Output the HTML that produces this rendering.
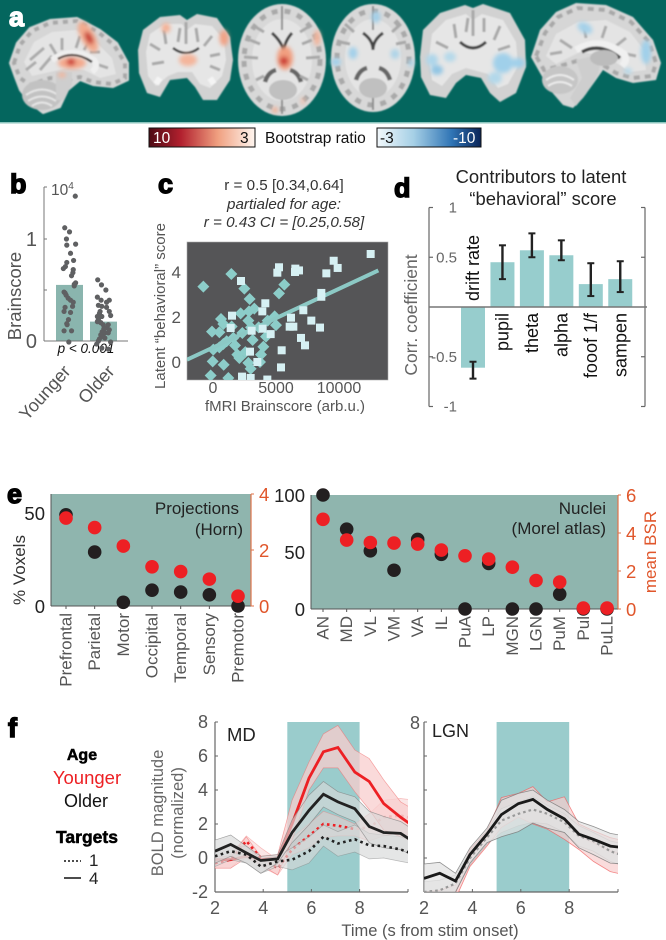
<!DOCTYPE html>
<html lang="en">
<head>
<meta charset="utf-8">
<title>Brain and behaviour multi-panel figure</title>
<style>
html,body{margin:0;padding:0;background:#fff;width:666px;height:940px;overflow:hidden}
svg{display:block}
text{font-family:"Liberation Sans",sans-serif}
.letter{font-weight:bold;font-size:27px;stroke:currentColor;stroke-width:1.4px}
.heavy{font-weight:bold;stroke:#000;stroke-width:.5px}
</style>
</head>
<body>
<svg id="fig" xmlns="http://www.w3.org/2000/svg" width="666" height="940" viewBox="0 0 666 940">
<defs>
<filter id="soft" x="-10%" y="-10%" width="120%" height="120%"><feGaussianBlur stdDeviation="0.9"/></filter>
<filter id="heat" x="-60%" y="-60%" width="220%" height="220%"><feGaussianBlur stdDeviation="2.2"/></filter>
<linearGradient id="redbar"><stop offset="0" stop-color="#4d0a14"/><stop offset=".3" stop-color="#b2202e"/><stop offset=".65" stop-color="#f0a080"/><stop offset="1" stop-color="#fff6f0"/></linearGradient>
<linearGradient id="bluebar"><stop offset="0" stop-color="#f2f8fb"/><stop offset=".35" stop-color="#a6d0e6"/><stop offset=".72" stop-color="#2f74b5"/><stop offset="1" stop-color="#0a2458"/></linearGradient>
<clipPath id="clipC"><rect x="187" y="242" width="201" height="138"/></clipPath>
<clipPath id="clipMD"><rect x="215" y="715" width="193" height="177"/></clipPath>
<clipPath id="clipLGN"><rect x="424" y="715" width="194" height="177"/></clipPath>
</defs>

<g id="panel-a">
<rect x="0" y="0" width="666" height="122" fill="#04665e"/>
<rect x="0" y="122" width="666" height="1.5" fill="#8cc5be"/>

<g>
<g filter="url(#soft)">
<polygon points="10,63 17,43 30,28 50,20 77,18 100,30 117,43 128,63 128,80 113,87 93,85 80,80 68,90 60,107 43,113 30,103 20,90 15,77" fill="#d6d6d6" stroke="#d6d6d6" stroke-width="2" stroke-linejoin="round"/>
<polygon points="14,63 20,45 32,31 50,23 77,21 98,32 114,45 125,63 125,78 112,84 93,82 80,77 66,80 50,78 30,85 20,78" fill="none" stroke="#a8a8a8" stroke-width="4" stroke-dasharray="5 5"/>
<polygon points="24,62 34,42 52,32 76,30 96,42 112,58 116,74 100,78 84,70 68,68 50,72 32,76" fill="#e4e4e4"/>
<path d="M30 60 L44 48 M40 70 L52 56 M62 38 L62 50 M80 36 L76 48 M100 52 L90 52 M108 68 L96 64 M50 44 L56 54 M90 40 L84 50 M26 70 L36 62" stroke="#ababab" stroke-width="3" fill="none"/>
<ellipse cx="42" cy="95" rx="20" ry="15" fill="#c2c2c2"/>
<path d="M26 95 Q42 84 58 95 M28 101 Q42 92 56 101 M32 106 Q42 99 52 106" stroke="#e6e6e6" stroke-width="2" fill="none"/>
<polygon points="56,72 72,72 72,84 64,100 56,100" fill="#cecece"/>
<path d="M52 60 Q72 46 94 60 Q99 66 92 72" stroke="#efefef" stroke-width="6" fill="none"/>
<path d="M58 59 Q74 50 92 62" stroke="#444" stroke-width="2.5" fill="none"/>
</g>
<g filter="url(#heat)">
<ellipse cx="88" cy="37" rx="7" ry="17" transform="rotate(-28 88 37)" fill="#f3ab8e"/>
<ellipse cx="89" cy="38" rx="3.5" ry="7" transform="rotate(-28 89 38)" fill="#c83f36"/>
<ellipse cx="72" cy="63" rx="14" ry="6" fill="#f4a98c"/>
<ellipse cx="71" cy="62" rx="4.5" ry="3.5" fill="#cc3c36"/>
<ellipse cx="62" cy="75" rx="4" ry="2.5" fill="#f4b49a"/>
</g>
</g>

<g>
<g filter="url(#soft)">
<polygon points="138,50 143,30 160,17 180,15 187,20 197,14 217,18 230,37 233,60 230,80 217,100 203,100 195,87 187,78 170,80 160,97 147,93 139,73" fill="#d2d2d2"/>
<polygon points="146,52 150,34 165,24 182,24 187,30 195,24 212,26 224,40 226,60 222,76 210,88 200,84 192,72 178,72 168,76 156,86 148,76" fill="#e6e6e6"/>
<path d="M150 44 L160 50 M164 30 L166 44 M180 28 L178 42 M196 28 L198 42 M212 36 L204 46 M220 54 L210 56 M152 64 L164 62 M220 70 L210 66 M186 22 L186 44" stroke="#a9a9a9" stroke-width="3" fill="none"/>
<path d="M173 48 Q186 58 199 48" stroke="#444" stroke-width="2.5" fill="none"/>
<path d="M156 84 l4 -6 M214 84 l-4 -6" stroke="#f4f4f4" stroke-width="6"/>
</g>
<g filter="url(#heat)">
<ellipse cx="166" cy="28" rx="4.5" ry="5" fill="#f4b195"/>
<ellipse cx="224" cy="38" rx="4.5" ry="8" fill="#f1a285"/>
<ellipse cx="188" cy="60" rx="9" ry="6" fill="#f4b59b"/>
</g>
</g>

<g>
<g filter="url(#soft)">
<ellipse cx="282" cy="60" rx="44" ry="56" fill="#d8d8d8"/>
<ellipse cx="282" cy="60" rx="38" ry="49" fill="none" stroke="#a9a9a9" stroke-width="5" stroke-dasharray="6 7"/>
<ellipse cx="282" cy="60" rx="30" ry="41" fill="#e4e4e4"/>
<path d="M282 6 L282 30 M282 95 L282 114" stroke="#8e8e8e" stroke-width="2"/>
<path d="M272 33 Q282 42 284 52 M292 33 Q284 42 284 52" stroke="#444" stroke-width="3" fill="none"/>
<path d="M265 82 Q268 72 276 70 M301 82 Q298 72 290 70" stroke="#666" stroke-width="4.5" fill="none"/>
<ellipse cx="283" cy="90" rx="14" ry="10" fill="#c0c0c0"/>
<path d="M244 57 L258 58 M306 58 L320 57 M250 40 L260 44 M312 40 L302 44 M254 26 L264 32 M310 26 L300 32 M256 80 L264 76 M308 80 L300 76" stroke="#a8a8a8" stroke-width="3"/>
</g>
<g filter="url(#heat)">
<ellipse cx="285" cy="58" rx="8" ry="12" fill="#f19f80"/>
<ellipse cx="284" cy="61" rx="4.5" ry="4.5" fill="#cc3c36"/>
<ellipse cx="317" cy="38" rx="3.5" ry="8" fill="#f3b59c"/>
<ellipse cx="275" cy="110" rx="3" ry="3" fill="#f2ae92"/>
<ellipse cx="303" cy="101" rx="2" ry="4" fill="#efc0ac"/>
</g>
</g>

<g>
<g filter="url(#soft)">
<ellipse cx="373" cy="58" rx="42" ry="54" fill="#d8d8d8"/>
<ellipse cx="373" cy="58" rx="36" ry="47" fill="none" stroke="#a9a9a9" stroke-width="5" stroke-dasharray="6 7"/>
<ellipse cx="373" cy="58" rx="28" ry="39" fill="#e4e4e4"/>
<path d="M373 6 L373 30 M373 92 L373 110" stroke="#8e8e8e" stroke-width="2"/>
<path d="M363 33 Q373 40 373 50 M383 33 Q373 40 373 50" stroke="#444" stroke-width="3" fill="none"/>
<path d="M356 80 Q359 70 367 68 M390 80 Q387 70 379 68" stroke="#666" stroke-width="4.5" fill="none"/>
<ellipse cx="373" cy="88" rx="14" ry="10" fill="#c0c0c0"/>
<path d="M345 24 L354 32 M401 24 L392 32 M340 42 L350 44 M406 42 L396 44" stroke="#a8a8a8" stroke-width="3"/>
</g>
<g filter="url(#heat)">
<ellipse cx="376" cy="17" rx="4.5" ry="6" fill="#a3cfe8"/>
<ellipse cx="353" cy="53" rx="4.5" ry="6" fill="#a3d0ea"/>
<ellipse cx="395" cy="54" rx="4.5" ry="5" fill="#aed4e8"/>
<ellipse cx="336" cy="62" rx="5" ry="4" fill="#a3d0ea"/>
<ellipse cx="411" cy="63" rx="3" ry="4" fill="#aed4e8"/>
</g>
</g>

<g>
<g filter="url(#soft)">
<polygon points="420,57 423,30 440,13 465,5 473,8 483,4 510,13 525,40 526,67 516,93 500,102 490,93 481,78 466,75 456,83 446,98 430,95 421,77" fill="#d2d2d2"/>
<polygon points="429,58 432,34 446,20 466,14 473,20 482,14 503,20 516,42 518,66 508,84 498,88 488,74 466,68 452,74 442,86 432,80" fill="#e6e6e6"/>
<path d="M436 42 L448 48 M454 24 L456 38 M468 18 L466 32 M484 18 L484 32 M500 26 L494 40 M510 46 L498 50 M473 10 L473 36" stroke="#a9a9a9" stroke-width="3" fill="none"/>
<path d="M460 42 Q473 54 486 42" stroke="#444" stroke-width="3" fill="none"/>
</g>
<g filter="url(#heat)">
<ellipse cx="432" cy="60" rx="6" ry="6" fill="#aed6ea"/>
<ellipse cx="437" cy="70" rx="6" ry="5" fill="#93c6e4"/>
<ellipse cx="450" cy="57" rx="6" ry="5" fill="#b6d9ea"/>
<ellipse cx="503" cy="63" rx="10" ry="10" fill="#a0d0ea"/>
<ellipse cx="495" cy="78" rx="7" ry="6" fill="#b2d8ea"/>
<ellipse cx="518" cy="63" rx="7" ry="5" fill="#a0d0ea"/>
</g>
</g>

<g>
<g filter="url(#soft)">
<polygon points="531,57 540,30 556,12 576,3 606,5 633,17 653,40 661,63 656,80 633,83 616,78 603,70 596,80 583,98 573,108 563,105 550,90 540,73" fill="#d6d6d6"/>
<polygon points="536,56 545,33 558,17 578,8 606,10 631,22 649,42 656,63 652,76 633,78 616,73 603,65 580,60 560,66 544,70" fill="none" stroke="#a8a8a8" stroke-width="4" stroke-dasharray="6 5"/>
<polygon points="546,56 556,34 578,22 606,20 630,32 644,50 646,70 630,72 606,56 580,52 556,64" fill="#e4e4e4"/>
<path d="M560 40 L572 48 M584 26 L586 38 M606 26 L602 38 M626 38 L616 46 M636 56 L626 54 M550 54 L562 52" stroke="#ababab" stroke-width="3" fill="none"/>
<ellipse cx="560" cy="80" rx="18" ry="14" fill="#c6c6c6"/>
<path d="M546 80 Q560 70 574 80 M548 86 Q560 78 572 86" stroke="#ececec" stroke-width="2" fill="none"/>
<polygon points="576,60 602,54 598,74 586,94 576,106 570,98 582,78" fill="#cecece"/>
<path d="M576 50 Q600 36 624 54 Q628 60 622 66" stroke="#f0f0f0" stroke-width="7" fill="none"/>
<path d="M582 52 Q600 42 620 58" stroke="#444" stroke-width="3.5" fill="none"/>
<ellipse cx="604" cy="58" rx="14" ry="8" fill="#bcbcbc"/>
</g>
<g filter="url(#heat)">
<ellipse cx="585" cy="28" rx="8" ry="5" transform="rotate(30 585 28)" fill="#a6d2ea"/>
<ellipse cx="646" cy="52" rx="5" ry="12" fill="#a0d0ea"/>
<ellipse cx="628" cy="71" rx="4" ry="3" fill="#b6d9ea"/>
</g>
</g>

<text class="letter" x="9" y="26" fill="#fff" color="#fff">a</text>

<g>
<rect x="149" y="128" width="106" height="19" fill="url(#redbar)" stroke="#111" stroke-width="1"/>
<text x="153" y="143" font-size="15.5" fill="#fff">10</text>
<text x="240" y="143" font-size="15.5" fill="#111">3</text>
<text x="265" y="143" font-size="15.5" fill="#111">Bootstrap ratio</text>
<rect x="377" y="128" width="104" height="19" fill="url(#bluebar)" stroke="#111" stroke-width="1"/>
<text x="380" y="143" font-size="15.5" fill="#111">-3</text>
<text x="453" y="143" font-size="15.5" fill="#fff">-10</text>
</g>
</g>

<text class="letter" x="10" y="193" fill="#000" color="#000">b</text>
<text class="letter" x="158" y="193" fill="#000" color="#000">c</text>
<text class="letter" x="394" y="197" fill="#000" color="#000">d</text>
<text class="letter" x="7" y="503" fill="#000" color="#000">e</text>
<text class="letter" x="8" y="737" fill="#000" color="#000">f</text>

<g>
<text transform="rotate(-90 21 296)" x="21" y="296" text-anchor="middle" font-size="18.5" fill="#555">Brainscore</text>
<text x="51" y="195" font-size="15.5" fill="#555">10<tspan dy="-6" font-size="10">4</tspan></text>
<text x="86" y="353" text-anchor="middle" font-size="13.5" font-style="italic" fill="#111">p &lt; 0.001</text>
<g id="chart-b"></g>
</g>

<g>
<text x="284" y="190" text-anchor="middle" font-size="15.2" fill="#333">r = 0.5 [0.34,0.64]</text>
<text x="284" y="209" text-anchor="middle" font-size="15.2" font-style="italic" fill="#333">partialed for age:</text>
<text x="284" y="227" text-anchor="middle" font-size="15.2" font-style="italic" fill="#333">r = 0.43 CI = [0.25,0.58]</text>
<rect x="187" y="242" width="201" height="138" fill="#555557" stroke="#aaa" stroke-width="0.6"/>
<text transform="rotate(-90 165 306)" x="165" y="306" text-anchor="middle" font-size="15" fill="#555">Latent “behavioral” score</text>
<text x="285" y="411" text-anchor="middle" font-size="15" fill="#555">fMRI Brainscore (arb.u.)</text>
<g id="chart-c" clip-path="url(#clipC)"></g>
<g id="chart-c-axes"></g>
</g>

<g>
<text x="541" y="183" text-anchor="middle" font-size="18.4" fill="#222">Contributors to latent</text>
<text x="543" y="205" text-anchor="middle" font-size="18.4" fill="#222">“behavioral” score</text>
<text transform="rotate(-90 417 315)" x="417" y="315" text-anchor="middle" font-size="17.5" fill="#666">Corr. coefficient</text>
<g id="chart-d"></g>
</g>

<g>
<rect x="51" y="494" width="200" height="112" fill="#8fb5ae"/>
<text x="239" y="514" text-anchor="end" font-size="17" fill="#222">Projections</text>
<text x="243" y="535" text-anchor="end" font-size="17" fill="#222">(Horn)</text>
<text transform="rotate(-90 25 570)" x="25" y="570" text-anchor="middle" font-size="17" fill="#333">% Voxels</text>
<g id="chart-e1"></g>
</g>

<g>
<rect x="311" y="495" width="307" height="114" fill="#8fb5ae"/>
<text x="606" y="514" text-anchor="end" font-size="17" fill="#222">Nuclei</text>
<text x="606" y="534" text-anchor="end" font-size="17" fill="#222">(Morel atlas)</text>
<text transform="rotate(-90 656 552)" x="656" y="552" text-anchor="middle" font-size="17" fill="#e0562b">mean BSR</text>
<g id="chart-e2"></g>
</g>

<g>
<text class="heavy" x="82" y="760" text-anchor="middle" font-size="16" fill="#000">Age</text>
<text x="87" y="784" text-anchor="middle" font-size="18.5" fill="#ed2024">Younger</text>
<text x="86" y="807" text-anchor="middle" font-size="18" fill="#111">Older</text>
<text class="heavy" x="87" y="843" text-anchor="middle" font-size="17.5" fill="#000">Targets</text>
<line x1="64" y1="861" x2="81" y2="861" stroke="#111" stroke-width="1.5" stroke-dasharray="2 2"/>
<text x="89" y="866" font-size="17" fill="#222">1</text>
<line x1="64" y1="878" x2="81" y2="878" stroke="#111" stroke-width="1.6"/>
<text x="89" y="884" font-size="17" fill="#222">4</text>
</g>

<g>
<text transform="rotate(-90 163 813)" x="163" y="813" text-anchor="middle" font-size="16.5" fill="#666">BOLD magnitude</text>
<text transform="rotate(-90 183 813)" x="183" y="813" text-anchor="middle" font-size="16.5" fill="#666">(normalized)</text>
<text x="430" y="936" text-anchor="middle" font-size="16.5" fill="#555">Time (s from stim onset)</text>
<g id="chart-md"></g>
<g id="chart-lgn"></g>
<text x="227" y="741" font-size="18.5" fill="#222">MD</text>
<text x="432" y="737" font-size="18" fill="#222">LGN</text>
</g>
</svg>

<script>
/* ---------- panel b ---------- */
const bScoreTicks = [0, 0.5, 1];
const bScoreTickLabels = ['0', '', '1'];
const bCategories = ['Younger', 'Older'];
const bMeans = [0.55, 0.19];
const youngerScores = [1.42,1.11,1.07,1.0,0.94,0.95,0.86,0.79,0.77,0.73,0.71,0.70,0.67,0.64,0.57,0.54,0.556,0.48,0.47,0.45,0.42,0.40,0.38,0.34,0.33,0.29,0.28,0.21,0.17,0.16,0.10,0.10,-0.01];
const youngerJitter = [0.17,-0.14,0,-0.09,-0.08,0.18,0.03,0.12,-0.08,-0.12,-0.18,0.11,0.1,0.06,0.18,0.14,0.14,-0.16,-0.13,-0.1,-0.04,0.03,0.11,0.09,-0.13,-0.16,0.03,-0.03,-0.08,-0.07,-0.16,0.06,-0.02];
const olderScores = [0.60,0.55,0.50,0.43,0.40,0.40,0.38,0.35,0.34,0.33,0.29,0.29,0.25,0.27,0.24,0.24,0.21,0.18,0.16,0.16,0.13,0.12,0.11,0.09,0.08,0.06,0.08,0,0.04,-0.03,-0.01,-0.07,-0.08,0.02,0.03,0.19];
const olderJitter = [-0.17,-0.06,0.07,-0.18,-0.07,0.17,0.09,-0.15,-0.05,0.09,-0.1,0.17,0.21,-0.12,-0.18,-0.05,-0.15,-0.08,-0.01,0.14,0.09,0.01,0.17,-0.04,0.04,-0.08,0.14,-0.15,-0.01,-0.2,0.21,-0.05,0.14,-0.12,0.04,-0.18];

/* ---------- panel c ---------- */
const cXTicks = [0, 5000, 10000];
const cYTicks = [0, 2, 4];
const squareX = [12513,9577,9894,8995,6825,6534,6508,5238,5106,2222,4153,8598,8598,7169,6190,7804,6085,6376,8492,6984,7302,5450,5397,4577,3915,1508,1402,3069,3942,2937,3519,2302,2989,4312];
const squareY = [4.8,4.5,4.18,3.94,4.07,4.15,4.0,4.21,3.97,3.6,2.61,3.07,2.9,2.3,1.97,1.84,1.57,1.57,1.53,1.07,0.74,0.52,-0.24,1.24,2.25,2.06,1.51,1.39,1.48,0.46,0,-0.65,-0.71,-0.78];
const diamondX = [-767,1455,2487,2910,5661,5238,2196,2857,3280,4894,635,820,2804,4339,-79,503,1481,3016,3624,5000,2328,4206,3148,820,503,1746,1931,3995,2566,3810,-26,847,2804,3730,2989,-185,1217,26,1085,2090,1614];
const diamondY = [3.35,3.91,3.26,2.8,3.44,3.05,2.16,2.25,2.37,2.03,1.91,1.69,1.84,1.84,1.35,1.32,1.58,1.54,1.54,1.64,1.29,1.13,0.98,0.8,0.65,0.74,0.33,0.68,0.44,0.33,0.03,-0.12,-0.04,0,-0.3,-0.6,-0.71,0.55,0.92,0.18,1.07];
const fitX = [-2070, 13122];
const fitY = [0.1, 4.07];

/* ---------- panel d ---------- */
const dCategories = ['drift rate','pupil','theta','alpha','fooof 1/f','sampen'];
const dValues = [-0.61,0.45,0.57,0.52,0.23,0.28];
const dErrLow = [-0.72,0.28,0.50,0.47,0.11,0.15];
const dErrHigh = [-0.55,0.62,0.74,0.67,0.44,0.46];
const dTicks = [1,0.5,-0.5,-1];

/* ---------- panel e ---------- */
const projCategories = ['Prefrontal','Parietal','Motor','Occipital','Temporal','Sensory','Premotor'];
const projVoxels = [49,29,2,8.5,7.5,6,0];
const projBSR = [3.14,2.8,2.14,1.4,1.23,0.96,0.35];
const projVoxelTicks = [0,50];
const projBSRTicks = [0,2,4];
const nucCategories = ['AN','MD','VL','VM','VA','IL','PuA','LP','MGN','LGN','PuM','Pul','PuLL'];
const nucVoxels = [100,70,51,34,61,48,0,40,0,0,13,0,0];
const nucBSR = [4.72,3.63,3.5,3.47,3.42,3.1,2.8,2.63,2.2,1.5,1.42,0.05,0.05];
const nucVoxelTicks = [0,50,100];
const nucBSRTicks = [0,2,4,6];

/* ---------- panel f ---------- */
const fTime = [2,2.65,3.3,3.9,4.6,5.2,5.9,6.5,7.1,7.8,8.4,9.0,9.7,10.3];
const fYTicks = [-2,0,2,4,6,8];
const fXTicks = [2,4,6,8];
const stimWindow = [5,8];

const mdOlder4 = [0.4,0.8,0.3,-0.15,-0.05,1.5,2.8,3.75,3.3,2.9,1.85,1.5,1.45,0.9];
const mdOlder4Up = [1.05,1.35,0.7,0.1,0.2,2.25,3.7,4.5,3.9,3.6,2.75,2.45,2.15,1.6];
const mdOlder4Lo = [-0.3,0.1,-0.3,-0.9,-0.3,0.9,1.95,3.0,2.55,2.15,0.9,0.6,0.5,0.05];
const mdYounger4 = [-0.1,-0.1,0.1,-0.1,0,2.0,4.7,6.25,6.5,5.05,4.5,3.2,2.4,1.8];
const mdYounger4Up = [0.1,0.1,1.25,0.1,0.2,3.4,5.65,7.3,7.8,6.35,5.85,4.6,3.3,2.8];
const mdYounger4Lo = [-0.6,-0.6,0,-0.4,-1,1.05,4.0,5.3,5.3,3.9,2.85,1.65,1.25,0.85];
const mdOlder1 = [0.1,0.4,0.2,-0.5,-0.2,-0.1,0.4,1.25,0.85,1.1,0.75,0.7,0.5,0.2];
const mdOlder1Up = [0.5,0.7,0.7,-0.1,0.1,0.6,1.25,1.95,1.55,1.95,1.45,1.35,1.25,1.05];
const mdOlder1Lo = [-0.5,-0.1,-0.3,-0.9,-0.5,-0.7,-0.3,0.7,0.1,0.35,-0.05,0,-0.2,-0.35];
const mdYounger1 = [-0.3,-0.1,1.0,0,-0.6,0.5,1.3,2.0,1.9,1.7,1.8,2.4,2.5,2.3];
const mdYounger1Up = [-0.1,0.2,1.3,0.6,-0.1,1.2,2.0,2.75,2.45,2.0,2.6,3.4,3.5,3.4];
const mdYounger1Lo = [-0.6,-0.6,0.3,-0.5,-1,0.2,0.6,1.2,1.3,1.3,1.0,1.3,1.5,1.2];

const lgnOlder4 = [-1.2,-0.9,-1.35,0.2,1.4,2.55,3.2,3.45,2.85,2.3,1.4,1.1,0.7,0.6];
const lgnOlder4Up = [-0.35,-0.25,-0.9,0.6,1.75,3.4,3.8,4.0,3.4,2.85,2.15,1.85,1.45,1.3];
const lgnOlder4Lo = [-2,-2,-2,-0.3,0.9,1.25,1.55,2.05,1.75,1.5,0.6,0.2,-0.3,-0.35];
const lgnYounger4 = [-2.4,-2.2,-2,0,1.2,2.6,3.2,3.4,2.9,2.5,1.3,0.9,0.4,0.2];
const lgnYounger4Up = [-2,-1.9,-1.6,0.5,1.6,3.55,3.8,4.2,3.3,3.6,2.0,1.6,1.2,1.0];
const lgnYounger4Lo = [-3,-2.8,-2.4,-0.5,0.7,1.8,2.4,2.0,1.7,1.1,0.5,-0.2,-0.8,-1.0];
const lgnOlder1 = [-2,-1.9,-1.5,0,1.2,2.2,2.6,2.85,2.6,2.1,1.3,1.0,0.4,0.1];
const lgnOlder1Up = [-1.4,-1.3,-1,0.4,1.6,2.9,3.3,3.6,3.1,2.6,1.9,1.5,1.0,0.8];
const lgnOlder1Lo = [-2.6,-2.5,-2,-0.4,0.8,1.5,1.9,2.1,2.0,1.5,0.7,0.4,-0.2,-0.5];

/* ---------- axis functions ---------- */
const bX = i => 69.5 + i * 34;
const bY = v => 341 - v * 102;
const cX = v => 213 + v * 0.0126;
const cY = v => 362 - v * 22.5;
const dX = i => 473 + i * 29.45;
const dY = v => 307 - v * 99.5;
const e1X = i => 66 + i * 28.67;
const e1YL = v => 606 - v * 1.86;
const e1YR = v => 606 - v * 28;
const e2X = i => 323 + i * 23.67;
const e2YL = v => 609 - v * 1.14;
const e2YR = v => 609 - v * 19;
const fY = v => 858 - v * 17;
const mdX = t => 215 + (t - 2) * 24.1;
const lgnX = t => 424 + (t - 2) * 24.2;

const NS = 'http://www.w3.org/2000/svg';
function add(parent, tag, attrs, name, txt) {
  const el = document.createElementNS(NS, tag);
  for (const k in attrs) el.setAttribute(k, attrs[k]);
  
  
  if (txt !== undefined) el.textContent = txt;
  parent.appendChild(el);
  return el;
}
const $ = id => document.getElementById(id);
function vText(parent, x, y, s, anchor, size, fill, name) {
  return add(parent, 'text', {x: x, y: y, transform: 'rotate(-90 ' + x + ' ' + y + ')', 'text-anchor': anchor, 'dominant-baseline': 'central', 'font-size': size, fill: fill}, name, s);
}

/* ---------- draw b ---------- */
(function () {
  const g = $('chart-b');
  bMeans.forEach((m, i) => {
    add(g, 'rect', {x: bX(i) - 13.5, y: bY(m), width: 27, height: bY(0) - bY(m), fill: '#8ab5ae'}, 'mean-bar-' + bCategories[i].toLowerCase());
  });
  add(g, 'line', {x1: 44, y1: 187, x2: 44, y2: 341, stroke: '#777', 'stroke-width': 1}, 'brainscore-y-axis');
  add(g, 'line', {x1: 44, y1: 341, x2: 128, y2: 341, stroke: '#777', 'stroke-width': 1}, 'brainscore-x-axis');
  add(g, 'line', {x1: 44, y1: 187, x2: 47, y2: 187, stroke: '#777', 'stroke-width': 1}, 'brainscore-top-tick');
  bScoreTicks.forEach((t, i) => {
    add(g, 'line', {x1: 44, y1: bY(t), x2: 47, y2: bY(t), stroke: '#777', 'stroke-width': 1}, 'brainscore-y-tick');
    if (bScoreTickLabels[i]) add(g, 'text', {x: 37, y: bY(t) + 7, 'text-anchor': 'end', 'font-size': 20, fill: '#555'}, 'brainscore-y-tick-label', bScoreTickLabels[i]);
  });
  youngerScores.forEach((v, i) => {
    add(g, 'circle', {cx: bX(0) + youngerJitter[i] * 34, cy: bY(v), r: 2.6, fill: '#5f6062'}, 'younger-point');
  });
  olderScores.forEach((v, i) => {
    add(g, 'circle', {cx: bX(1) + olderJitter[i] * 34, cy: bY(v), r: 2.6, fill: '#5f6062'}, 'older-point');
  });
  bCategories.forEach((c, i) => {
    const x = bX(i) + 2 + i * 10, y = 372;
    add(g, 'text', {x: x, y: y, transform: 'rotate(-48 ' + x + ' ' + y + ')', 'text-anchor': 'end', 'font-size': 18, fill: '#555'}, 'x-label-' + c.toLowerCase(), c);
  });
})();

/* ---------- draw c ---------- */
(function () {
  const g = $('chart-c');
  diamondX.forEach((v, i) => {
    const x = cX(v), y = cY(diamondY[i]), r = 6;
    add(g, 'polygon', {points: [x, y - r, x + r, y, x, y + r, x - r, y].join(','), fill: '#8ccdc9'}, 'older-diamond-point');
  });
  add(g, 'line', {x1: cX(fitX[0]), y1: cY(fitY[0]), x2: cX(fitX[1]), y2: cY(fitY[1]), stroke: '#8cc9c5', 'stroke-width': 4}, 'fit-line');
  squareX.forEach((v, i) => {
    add(g, 'rect', {x: cX(v) - 4, y: cY(squareY[i]) - 4, width: 8, height: 8, fill: '#d6f0f3'}, 'younger-square-point');
  });
  const a = $('chart-c-axes');
  cYTicks.forEach(t => {
    add(a, 'text', {x: 181, y: cY(t) + 6, 'text-anchor': 'end', 'font-size': 17, fill: '#555'}, 'scatter-y-tick-label', String(t));
  });
  cXTicks.forEach(t => {
    add(a, 'text', {x: cX(t), y: 393, 'text-anchor': 'middle', 'font-size': 16, fill: '#555'}, 'scatter-x-tick-label', String(t));
  });
})();

/* ---------- draw d ---------- */
(function () {
  const g = $('chart-d');
  dValues.forEach((v, i) => {
    add(g, 'rect', {x: dX(i) - 12, y: Math.min(dY(v), dY(0)), width: 24, height: Math.abs(dY(v) - dY(0)), fill: '#97cdcd'}, 'bar-' + dCategories[i].replace(/[^a-z]+/g, '-'));
  });
  [[429, 4], [645, -4]].forEach(s => {
    add(g, 'line', {x1: s[0], y1: dY(1), x2: s[0], y2: dY(-1), stroke: '#666', 'stroke-width': 1.2}, s[1] > 0 ? 'left-y-axis' : 'right-y-axis');
    dTicks.forEach(t => {
      add(g, 'line', {x1: s[0], y1: dY(t), x2: s[0] + s[1], y2: dY(t), stroke: '#666', 'stroke-width': 1.2}, 'contributors-y-tick');
    });
  });
  add(g, 'line', {x1: 429, y1: dY(0), x2: 647, y2: dY(0), stroke: '#777', 'stroke-width': 1.6}, 'zero-line');
  dTicks.forEach(t => {
    add(g, 'text', {x: 457, y: dY(t) + 5, 'text-anchor': 'end', 'font-size': 15, fill: '#666'}, 'contributors-y-tick-label', String(t));
  });
  dValues.forEach((v, i) => {
    const x = dX(i);
    add(g, 'line', {x1: x, y1: dY(dErrLow[i]), x2: x, y2: dY(dErrHigh[i]), stroke: '#222', 'stroke-width': 2.4}, 'error-bar');
    add(g, 'line', {x1: x - 3.5, y1: dY(dErrLow[i]), x2: x + 3.5, y2: dY(dErrLow[i]), stroke: '#222', 'stroke-width': 2}, 'error-cap-low');
    add(g, 'line', {x1: x - 3.5, y1: dY(dErrHigh[i]), x2: x + 3.5, y2: dY(dErrHigh[i]), stroke: '#222', 'stroke-width': 2}, 'error-cap-high');
    if (v < 0) vText(g, x, dY(0) - 6, dCategories[i], 'start', 18, '#111', 'bar-label');
    else vText(g, x, dY(0) + 6, dCategories[i], 'end', 18, '#111', 'bar-label');
  });
})();

/* ---------- draw e ---------- */
function dotPanel(g, cats, xf, yl, yr, left, right, lt, rt, x0, x1, labelY, labelSize) {
  add(g, 'line', {x1: x0, y1: yl(0), x2: x1, y2: yl(0), stroke: '#555', 'stroke-width': 1}, 'dot-x-axis');
  add(g, 'line', {x1: x0, y1: yr(rt[rt.length - 1]), x2: x0, y2: yl(0), stroke: '#555', 'stroke-width': 1}, 'dot-left-axis');
  add(g, 'line', {x1: x1, y1: yr(rt[rt.length - 1]), x2: x1, y2: yl(0), stroke: '#e0734a', 'stroke-width': 1.2}, 'dot-right-axis');
  lt.forEach(t => {
    add(g, 'text', {x: x0 - 6, y: yl(t) + 7, 'text-anchor': 'end', 'font-size': 18.5, fill: '#222'}, 'left-y-tick-label', String(t));
  });
  rt.forEach(t => {
    add(g, 'line', {x1: x1, y1: yr(t), x2: x1 + 3, y2: yr(t), stroke: '#e0734a', 'stroke-width': 1}, 'right-y-tick');
    add(g, 'text', {x: x1 + 8, y: yr(t) + 7, 'font-size': 18.5, fill: '#e0562b'}, 'right-y-tick-label', String(t));
  });
  cats.forEach((c, i) => {
    add(g, 'line', {x1: xf(i), y1: yl(0), x2: xf(i), y2: yl(0) + 3, stroke: '#555', 'stroke-width': 1}, 'dot-x-tick');
    vText(g, xf(i), labelY, c, 'end', labelSize, '#555', 'x-label-' + c.toLowerCase());
  });
  left.forEach((v, i) => {
    add(g, 'circle', {cx: xf(i), cy: yl(v), r: 6.8, fill: '#231f20'}, 'voxels-dot-' + cats[i].toLowerCase());
  });
  right.forEach((v, i) => {
    add(g, 'circle', {cx: xf(i), cy: yr(v), r: 6.8, fill: '#ed2024'}, 'bsr-dot-' + cats[i].toLowerCase());
  });
}
dotPanel($('chart-e1'), projCategories, e1X, e1YL, e1YR, projVoxels, projBSR, projVoxelTicks, projBSRTicks, 51, 251, 613, 17);
dotPanel($('chart-e2'), nucCategories, e2X, e2YL, e2YR, nucVoxels, nucBSR, nucVoxelTicks, nucBSRTicks, 311, 618, 616, 17);

/* ---------- draw f ---------- */
function linePath(xf, vals) {
  return vals.map((v, i) => (i ? 'L' : 'M') + xf(fTime[i]).toFixed(1) + ' ' + fY(v).toFixed(1)).join(' ');
}
function bandPath(xf, up, lo) {
  let d = linePath(xf, up);
  for (let i = lo.length - 1; i >= 0; i--) d += ' L' + xf(fTime[i]).toFixed(1) + ' ' + fY(lo[i]).toFixed(1);
  return d + ' Z';
}
function timeAxes(g, xf, x0, x1, labelY) {
  add(g, 'rect', {x: xf(stimWindow[0]), y: fY(8), width: xf(stimWindow[1]) - xf(stimWindow[0]), height: fY(-2) - fY(8), fill: '#9acccc'}, 'stimulus-window');
  add(g, 'line', {x1: x0, y1: fY(8), x2: x0, y2: fY(-2), stroke: '#666', 'stroke-width': 1.2}, 'time-y-axis');
  add(g, 'line', {x1: x0, y1: fY(-2), x2: x1, y2: fY(-2), stroke: '#666', 'stroke-width': 1.2}, 'time-x-axis');
  add(g, 'line', {x1: x1, y1: fY(-2), x2: x1, y2: fY(-2) - 3, stroke: '#666', 'stroke-width': 1}, 'time-x-end-tick');
  fYTicks.forEach(t => {
    add(g, 'line', {x1: x0, y1: fY(t), x2: x0 + 3, y2: fY(t), stroke: '#666', 'stroke-width': 1}, 'time-y-tick');
  });
  fXTicks.forEach(t => {
    add(g, 'line', {x1: xf(t), y1: fY(-2), x2: xf(t), y2: fY(-2) - 3, stroke: '#666', 'stroke-width': 1}, 'time-x-tick');
    add(g, 'text', {x: xf(t), y: labelY, 'text-anchor': 'middle', 'font-size': 18, fill: '#555'}, 'time-x-tick-label', String(t));
  });
}
(function () {
  const g = $('chart-md');
  timeAxes(g, mdX, 215, 408, 914);
  fYTicks.forEach(t => {
    add(g, 'text', {x: 208, y: fY(t) + 6, 'text-anchor': 'end', 'font-size': 18, fill: '#555'}, 'time-y-tick-label', String(t));
  });
  const c = add(g, 'g', {'clip-path': 'url(#clipMD)'}, 'md-series');
  add(c, 'path', {d: bandPath(mdX, mdYounger1Up, mdYounger1Lo), fill: 'rgba(248,205,205,.5)', stroke: 'rgba(240,110,110,.4)', 'stroke-width': .7}, 'md-younger-1-band');
  add(c, 'path', {d: bandPath(mdX, mdYounger4Up, mdYounger4Lo), fill: 'rgba(248,205,205,.75)', stroke: 'rgba(240,110,110,.6)', 'stroke-width': .7}, 'md-younger-4-band');
  add(c, 'path', {d: linePath(mdX, mdYounger1), fill: 'none', stroke: '#f2b6b6', 'stroke-width': 2.6, 'stroke-dasharray': '2.6 3.4'}, 'md-younger-1-line-faded');
  add(c, 'path', {d: linePath(mdX, mdYounger1.slice(0, 10)), fill: 'none', stroke: '#ed2024', 'stroke-width': 2.6, 'stroke-dasharray': '2.6 3.4'}, 'md-younger-1-line');
  add(c, 'path', {d: linePath(mdX, mdYounger4), fill: 'none', stroke: '#ed2024', 'stroke-width': 2.8}, 'md-younger-4-line');
  add(c, 'path', {d: bandPath(mdX, mdOlder1Up, mdOlder1Lo), fill: 'rgba(215,217,217,.65)', stroke: 'rgba(130,130,130,.5)', 'stroke-width': .7}, 'md-older-1-band');
  add(c, 'path', {d: bandPath(mdX, mdOlder4Up, mdOlder4Lo), fill: 'rgba(215,217,217,.65)', stroke: 'rgba(130,130,130,.7)', 'stroke-width': .7}, 'md-older-4-band');
  add(c, 'path', {d: linePath(mdX, mdOlder1), fill: 'none', stroke: '#222', 'stroke-width': 2.6, 'stroke-dasharray': '2.6 3.4'}, 'md-older-1-line');
  add(c, 'path', {d: linePath(mdX, mdOlder4), fill: 'none', stroke: '#222', 'stroke-width': 2.8}, 'md-older-4-line');
})();
(function () {
  const g = $('chart-lgn');
  timeAxes(g, lgnX, 424, 618, 914);
  add(g, 'text', {x: 420, y: fY(8) + 7, 'text-anchor': 'end', 'font-size': 18, fill: '#555'}, 'lgn-top-tick-label', '8');
  const c = add(g, 'g', {'clip-path': 'url(#clipLGN)'}, 'lgn-series');
  add(c, 'path', {d: bandPath(lgnX, lgnYounger4Up, lgnYounger4Lo), fill: 'rgba(248,205,205,.7)', stroke: 'rgba(240,90,90,.7)', 'stroke-width': .8}, 'lgn-younger-band');
  add(c, 'path', {d: linePath(lgnX, lgnYounger4), fill: 'none', stroke: 'rgba(237,32,36,.25)', 'stroke-width': 1.6}, 'lgn-younger-line');
  add(c, 'path', {d: bandPath(lgnX, lgnOlder1Up, lgnOlder1Lo), fill: 'rgba(225,225,225,.6)', stroke: 'rgba(130,130,130,.45)', 'stroke-width': .7}, 'lgn-older-1-band');
  add(c, 'path', {d: bandPath(lgnX, lgnOlder4Up, lgnOlder4Lo), fill: 'rgba(225,225,225,.7)', stroke: 'rgba(120,120,120,.8)', 'stroke-width': .8}, 'lgn-older-4-band');
  add(c, 'path', {d: linePath(lgnX, lgnOlder1), fill: 'none', stroke: '#999', 'stroke-width': 2.2, 'stroke-dasharray': '2.6 3'}, 'lgn-older-1-line');
  add(c, 'path', {d: linePath(lgnX, lgnOlder4), fill: 'none', stroke: '#1a1a1a', 'stroke-width': 2.8}, 'lgn-older-4-line');
})();
</script>
</body>
</html>
